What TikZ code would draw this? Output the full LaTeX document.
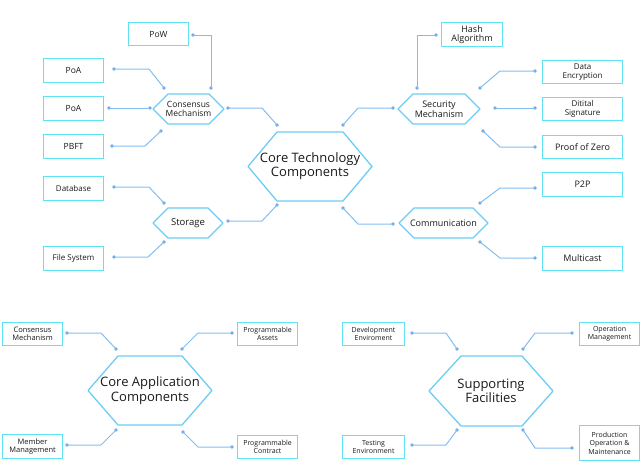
\documentclass[tikz,border=0pt]{standalone}
\usepackage{fontspec}
\setmainfont{Open Sans}
\definecolor{boxc}{HTML}{5FE3F2}
\definecolor{shad}{HTML}{8CC4F2}
\definecolor{lnc}{HTML}{82BDF2}
\definecolor{dotc}{HTML}{6FAAEA}
\definecolor{hexc}{HTML}{6CCDF5}
\definecolor{txt}{HTML}{1A1A1A}
\tikzset{
  bx/.style={draw=boxc,line width=1.1pt,fill=white,inner sep=1pt,align=center,text=txt},
  ln/.style={draw=lnc,line width=1pt},
  hx/.style={draw=hexc,line width=1.3pt,line join=round,fill=white},
  lbl/.style={align=center,text=txt},
}
\newcommand{\mybox}[5]{% name, x1,y1,x2,y2
  \fill[shad!60] (#2+1.2,#3+1.2) rectangle (#4+1.2,#5+1.2);
  \node[bx,minimum width={#4-#2},minimum height={#5-#3},anchor=north west] (#1) at (#2,#3) {};}
\newcommand{\myhex}[6]{%
  \draw[hx] (#1,{(#5+#6)/2}) -- (#2,#5) -- (#3,#5) -- (#4,{(#5+#6)/2}) -- (#3,#6) -- (#2,#6) -- cycle;}
\newcommand{\dt}[2]{\coordinate (#1) at (#2); \fill[dotc] (#1) circle (1.9);}
\begin{document}
\begin{tikzpicture}[x=1pt,y=-1pt]
\useasboundingbox (0,0) rectangle (640,463);
% hexagons
\myhex{248}{277}{343}{372}{132}{201}
\node[lbl,font=\fontsize{13}{14}\selectfont] (core) at (310,166) {Core Technology\\Components};
\myhex{153}{168}{209}{224}{94}{124}
\node[lbl,font=\fontsize{8.5}{9}\selectfont] (cons) at (188.5,109) {Consensus\\Mechanism};
\myhex{153}{168}{208}{223}{208}{238}
\node[lbl,font=\fontsize{9.5}{10}\selectfont] (stor) at (188,223) {Storage};
\myhex{398}{413}{465}{480}{94}{124}
\node[lbl,font=\fontsize{9}{9.5}\selectfont] (sec) at (439,109) {Security\\Mechanism};
\myhex{399}{414}{473}{488}{208}{238}
\node[lbl,font=\fontsize{9}{9.5}\selectfont] (comm) at (443.5,223) {Communication};
\myhex{88}{118}{182}{212}{356}{425}
\node[lbl,font=\fontsize{13}{14.5}\selectfont] (capp) at (150,390.5) {Core Application\\Components};
\myhex{429}{461}{522}{553}{356}{426}
\node[lbl,font=\fontsize{13}{14.5}\selectfont] (supp) at (491,391) {Supporting\\Facilities};
% boxes
\mybox{pow}{128}{22}{188}{45}\node[lbl,font=\fontsize{8.5}{9}\selectfont] at (pow) {PoW};
\mybox{poa1}{43}{58}{103}{82}\node[lbl,font=\fontsize{8.5}{9}\selectfont] at (poa1) {PoA};
\mybox{poa2}{43}{96}{103}{120}\node[lbl,font=\fontsize{8.5}{9}\selectfont] at (poa2) {PoA};
\mybox{pbft}{43}{134}{103}{158}\node[lbl,font=\fontsize{8.5}{9}\selectfont] at (pbft) {PBFT};
\mybox{db}{43}{176}{103}{200}\node[lbl,font=\fontsize{8}{9}\selectfont] at (db) {Database};
\mybox{fs}{43}{246}{103}{270}\node[lbl,font=\fontsize{8}{9}\selectfont] at (fs) {File System};
\mybox{hash}{441}{22}{502}{46}\node[lbl,font=\fontsize{9}{9.5}\selectfont] at (hash) {Hash\\Algorithm};
\mybox{enc}{542}{60}{622}{83}\node[lbl,font=\fontsize{8}{8.8}\selectfont] at (enc) {Data\\Encryption};
\mybox{sig}{542}{97}{622}{120}\node[lbl,font=\fontsize{8}{8.8}\selectfont] at (sig) {Ditital\\Signature};
\mybox{pz}{542}{135}{622}{158}\node[lbl,font=\fontsize{9}{9}\selectfont] at (pz) {Proof of Zero};
\mybox{ptp}{542}{172}{622}{196}\node[lbl,font=\fontsize{9}{9}\selectfont] at (ptp) {P2P};
\mybox{mc}{542}{246}{622}{270}\node[lbl,font=\fontsize{9}{9}\selectfont] at (mc) {Multicast};
\mybox{acm}{2}{322}{62}{345}\node[lbl,font=\fontsize{7.5}{8.3}\selectfont] at (acm) {Consensus\\Mechanism};
\mybox{apa}{237}{322}{297}{345}\node[lbl,font=\fontsize{7}{8.3}\selectfont] at (apa) {Programmable\\Assets};
\mybox{amm}{2}{434}{62}{458}\node[lbl,font=\fontsize{7.5}{8.3}\selectfont] at (amm) {Member\\Management};
\mybox{apc}{237}{435}{297}{458}\node[lbl,font=\fontsize{7}{8.3}\selectfont] at (apc) {Programmable\\Contract};
\mybox{sde}{342}{322}{404}{345}\node[lbl,font=\fontsize{7}{8.3}\selectfont] at (sde) {Development\\Enviroment};
\mybox{som}{579}{322}{639}{345}\node[lbl,font=\fontsize{7}{8.3}\selectfont] at (som) {Operation\\Management};
\mybox{ste}{342}{435}{404}{458}\node[lbl,font=\fontsize{7}{8.3}\selectfont] at (ste) {Testing\\Environment};
\mybox{spo}{579}{425}{639}{460}\node[lbl,font=\fontsize{7}{8.5}\selectfont] at (spo) {Production\\Operation \&\\Maintenance};
% connectors
\dt{a1}{193,35}\dt{a2}{211,88}\draw[ln] (a1) -- (211,35) -- (a2);
\dt{b1}{114,69}\dt{b2}{164,88}\draw[ln] (b1) -- (149,69) -- (b2);
\dt{c1}{109,108}\dt{c2}{150,108}\draw[ln] (c1) -- (c2);
\dt{d1}{112,146}\dt{d2}{161,131}\draw[ln] (d1) -- (145,146) -- (d2);
\dt{e1}{228,108}\dt{e2}{277,125}\draw[ln] (e1) -- (262,108) -- (e2);
\dt{f1}{114,187}\dt{f2}{164,203}\draw[ln] (f1) -- (149,187) -- (f2);
\dt{g1}{114,257}\dt{g2}{164,242}\draw[ln] (g1) -- (148,257) -- (g2);
\dt{h1}{228,221}\dt{h2}{277,205}\draw[ln] (h1) -- (262,221) -- (h2);
\dt{i1}{343,125}\dt{i2}{393,108}\draw[ln] (i1) -- (358,108) -- (i2);
\dt{j1}{417,88}\dt{j2}{436,35}\draw[ln] (j1) -- (417,35) -- (j2);
\dt{k1}{480,88}\dt{k2}{535,71}\draw[ln] (k1) -- (500,71) -- (k2);
\dt{l1}{495,108}\dt{l2}{535,108}\draw[ln] (l1) -- (l2);
\dt{m1}{483,131}\dt{m2}{535,147}\draw[ln] (m1) -- (500,147) -- (m2);
\dt{n1}{343,208}\dt{n2}{393,224}\draw[ln] (n1) -- (358,224) -- (n2);
\dt{o1}{480,203}\dt{o2}{535,188}\draw[ln] (o1) -- (500,188) -- (o2);
\dt{p1}{480,242}\dt{p2}{535,258}\draw[ln] (p1) -- (500,258) -- (p2);
% bottom
\dt{q1}{67,333}\dt{q2}{116,349}\draw[ln] (q1) -- (101,333) -- (q2);
\dt{r1}{232,333}\dt{r2}{182,349}\draw[ln] (r1) -- (198,333) -- (r2);
\dt{s1}{67,445}\dt{s2}{116,430}\draw[ln] (s1) -- (101,445) -- (s2);
\dt{t1}{232,447}\dt{t2}{183,432}\draw[ln] (t1) -- (198,447) -- (t2);
\dt{u1}{412,333}\dt{u2}{457,349}\draw[ln] (u1) -- (446,333) -- (u2);
\dt{v1}{572,333}\dt{v2}{523,349}\draw[ln] (v1) -- (535,333) -- (v2);
\dt{w1}{412,445}\dt{w2}{457,430}\draw[ln] (w1) -- (446,445) -- (w2);
\dt{z1}{572,448}\dt{z2}{523,430}\draw[ln] (z1) -- (535,448) -- (z2);
\end{tikzpicture}
\end{document}
